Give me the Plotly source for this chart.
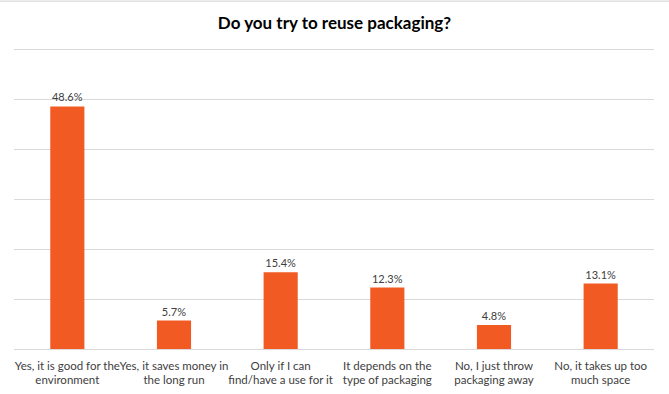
import plotly.graph_objects as go

categories = [
    "Yes, it is good for the environment",
    "Yes, it saves money in the long run",
    "Only if I can find/have a use for it",
    "It depends on the type of packaging",
    "No, I just throw packaging away",
    "No, it takes up too much space",
]
tick_labels = [
    "Yes, it is good for the<br>environment",
    "Yes, it saves money in<br>the long run",
    "Only if I can<br>find/have a use for it",
    "It depends on the<br>type of packaging",
    "No, I just throw<br>packaging away",
    "No, it takes up too<br>much space",
]
values = [48.6, 5.7, 15.4, 12.3, 4.8, 13.1]
y_max = 60
title = "Do you try to reuse packaging?"

FONT = "Lato"

# plot area geometry (pixels)
W, H = 669, 394
M_B = 45
M_T = 47.5
PLOT_H = H - M_T - M_B
Y_TOP = y_max * PLOT_H / 300.0  # so that y_max sits 1.5px inside the plot top

fig = go.Figure(
    go.Bar(
        x=categories,
        y=values,
        marker=dict(color="#F15A22", line=dict(width=0)),
        width=0.32,
        text=[f"{v:.1f}%" for v in values],
        textposition="outside",
        cliponaxis=False,
        textfont=dict(family=FONT, size=11, color="#404040"),
        hoverinfo="skip",
    )
)

fig.update_layout(
    width=W,
    height=H,
    margin=dict(l=14, r=15, t=M_T, b=M_B, autoexpand=False),
    paper_bgcolor="white",
    plot_bgcolor="white",
    showlegend=False,
    title=dict(
        text="<b>" + title + "</b>",
        x=0.5,
        xanchor="center",
        y=1 - 23 / H,
        yanchor="middle",
        font=dict(family="Lato", size=17, color="#000000"),
    ),
    xaxis=dict(
        tickmode="array",
        tickvals=categories,
        ticktext=tick_labels,
        tickangle=0,
        automargin=False,
        ticklabelstandoff=8,
        tickfont=dict(family=FONT, size=11.5, color="#404040"),
        showgrid=False,
        showline=False,
        ticks="",
        fixedrange=True,
    ),
    yaxis=dict(
        range=[0, Y_TOP],
        tick0=0,
        dtick=10,
        showticklabels=False,
        automargin=False,
        showgrid=True,
        gridcolor="#D9D9D9",
        gridwidth=1,
        zeroline=True,
        zerolinecolor="#D9D9D9",
        zerolinewidth=1,
        showline=False,
        ticks="",
        fixedrange=True,
    ),
    shapes=[
        dict(type="rect", xref="paper", yref="paper", x0=-0.05, x1=1.05,
             y0=1 + (M_T - 1.2) / PLOT_H, y1=1 + M_T / PLOT_H,
             fillcolor="#D9D9D9", line=dict(width=0)),
    ],
)

fig.write_html(
    "out.html",
    config={"displayModeBar": False, "staticPlot": True},
    post_script="document.body.style.margin='0';",
)
